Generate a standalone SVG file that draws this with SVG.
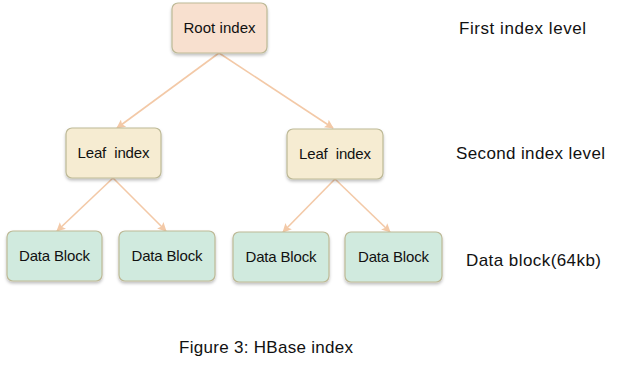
<svg xmlns="http://www.w3.org/2000/svg" width="617" height="370" viewBox="0 0 617 370">
<defs>
<style>
.box{stroke:#BDB996;stroke-width:1.2;filter:url(#sh)}
.root{fill:#F8E0CF}
.leaf{fill:#F6ECD2}
.data{fill:#D0EADE}
.t{font-family:"Liberation Sans",Arial,sans-serif;font-size:15px;fill:#111;text-anchor:middle}
.lbl{font-family:"Liberation Sans",Arial,sans-serif;font-size:17px;fill:#111}
.ed{stroke:#F3C9A7;stroke-width:1.6;fill:none;marker-end:url(#ah)}
</style>
<marker id="ah" viewBox="0 0 10 10" refX="9" refY="5" markerWidth="10" markerHeight="9" markerUnits="userSpaceOnUse" orient="auto">
<path d="M0,0 L10,5 L0,10 L2,5 Z" fill="#F3C9A7"/>
</marker>
<filter id="sh" x="-10%" y="-10%" width="120%" height="130%">
<feDropShadow dx="0" dy="2" stdDeviation="1.5" flood-color="#000" flood-opacity="0.25"/>
</filter>
</defs>
<g id="connectors">
<line class="ed" x1="219" y1="53" x2="117" y2="128"/>
<line class="ed" x1="219" y1="53" x2="333" y2="128"/>
<line class="ed" x1="113" y1="178" x2="57" y2="231"/>
<line class="ed" x1="113" y1="178" x2="166" y2="231"/>
<line class="ed" x1="335" y1="179" x2="283" y2="232"/>
<line class="ed" x1="335" y1="179" x2="390" y2="232"/>
</g>
<g id="root">
<rect class="box root" x="172" y="3" width="95" height="50" rx="6"/>
<text class="t" x="219.5" y="33" textLength="72">Root index</text>
</g>
<g id="leaf1">
<rect class="box leaf" x="66" y="128" width="95" height="50" rx="6"/>
<text class="t" x="113.5" y="158" textLength="72" xml:space="preserve">Leaf  index</text>
</g>
<g id="leaf2">
<rect class="box leaf" x="287" y="129" width="96" height="50" rx="6"/>
<text class="t" x="335" y="159" textLength="72" xml:space="preserve">Leaf  index</text>
</g>
<g id="data1">
<rect class="box data" x="7" y="231" width="95" height="50" rx="6"/>
<text class="t" x="54.5" y="261" textLength="71">Data Block</text>
</g>
<g id="data2">
<rect class="box data" x="119" y="231" width="96" height="50" rx="6"/>
<text class="t" x="167" y="261" textLength="71">Data Block</text>
</g>
<g id="data3">
<rect class="box data" x="233" y="232" width="96" height="50" rx="6"/>
<text class="t" x="281" y="262" textLength="71">Data Block</text>
</g>
<g id="data4">
<rect class="box data" x="345" y="232" width="97" height="50" rx="6"/>
<text class="t" x="393.5" y="262" textLength="71">Data Block</text>
</g>
<g id="labels">
<text class="lbl" x="459" y="34" textLength="127">First index level</text>
<text class="lbl" x="456" y="159" textLength="149">Second index level</text>
<text class="lbl" x="466" y="266" textLength="135">Data block(64kb)</text>
<text class="lbl" x="179" y="353" textLength="174">Figure 3: HBase index</text>
</g>
</svg>
